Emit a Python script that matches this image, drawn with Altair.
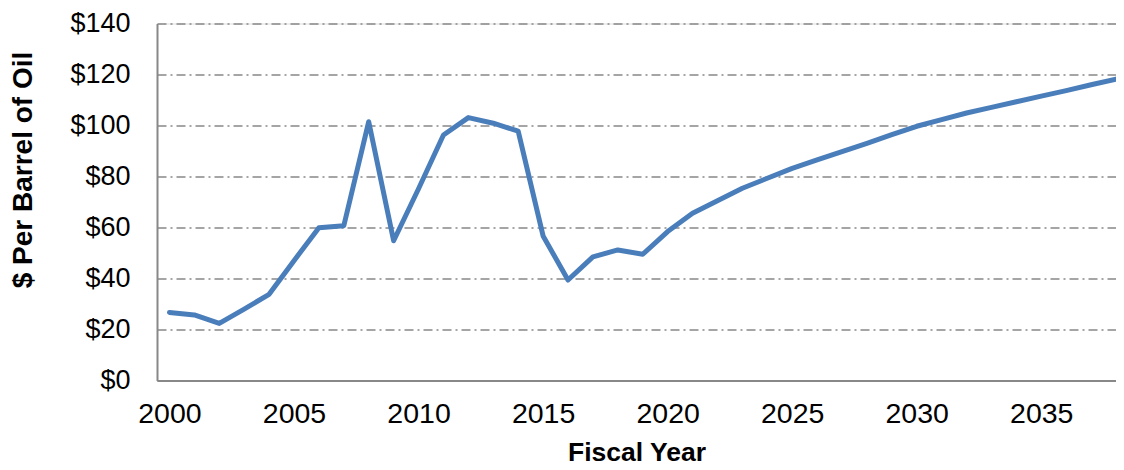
import altair as alt
import pandas as pd

years = list(range(2000, 2039))
prices = [26.7, 25.7, 22.4, 28.0, 33.8, 47.0, 59.9, 60.7, 101.5, 54.8,
          75.2, 96.3, 103.1, 100.9, 97.8, 56.7, 39.4, 48.5, 51.2, 49.5,
          58.4, 65.6, 70.5, 75.4, 79.3, 83.2, 86.5, 89.8, 93.0, 96.4,
          99.7, 102.3, 104.9, 107.1, 109.3, 111.5, 113.7, 116.0, 118.2]
x_ticks = [2000, 2005, 2010, 2015, 2020, 2025, 2030, 2035]
y_ticks = [0, 20, 40, 60, 80, 100, 120, 140]

df = pd.DataFrame({"year": years, "price": prices})

FONT = "Liberation Sans"

chart = alt.Chart(df).mark_line(color="#4a7ebb", strokeWidth=5, strokeJoin="round", strokeCap="round").encode(
    x=alt.X("year:Q",
            scale=alt.Scale(domain=[1999.5, 2038], nice=False, zero=False),
            axis=alt.Axis(values=x_ticks, format="d", title="Fiscal Year",
                          grid=False, ticks=False, domain=True,
                          domainColor="#888888", domainWidth=2,
                          labelFont=FONT, labelFontSize=28.5, labelColor="#000000",
                          labelPadding=19, labelFlush=False,
                          titleFont=FONT, titleFontSize=26.5, titleFontWeight="bold",
                          titleColor="#000000", titleBaseline="alphabetic",
                          titleAnchor="middle", titleY=80)),
    y=alt.Y("price:Q",
            scale=alt.Scale(domain=[0, 140], nice=False),
            axis=alt.Axis(values=y_ticks, labelExpr="'$' + datum.value",
                          title="$ Per Barrel of Oil",
                          grid=True, gridColor="#888888", gridWidth=1.6,
                          gridDash=[9, 4, 2, 4],
                          ticks=False, domain=True,
                          domainColor="#888888", domainWidth=2,
                          labelFont=FONT, labelFontSize=27, labelColor="#000000",
                          labelPadding=27,
                          titleFont=FONT, titleFontSize=28, titleFontWeight="bold",
                          titleColor="#000000", titleAngle=270,
                          titleX=-134, titleY=146, titleAlign="center",
                          titleBaseline="middle")),
).properties(
    width=959,
    height=357,
    autosize=alt.AutoSizeParams(type="none"),
    padding={"left": 149, "top": 15.5, "right": 0, "bottom": 86},
).configure_view(stroke=None).configure(background="white")

chart.save("out.html", embed_options={"renderer": "svg", "actions": False})
